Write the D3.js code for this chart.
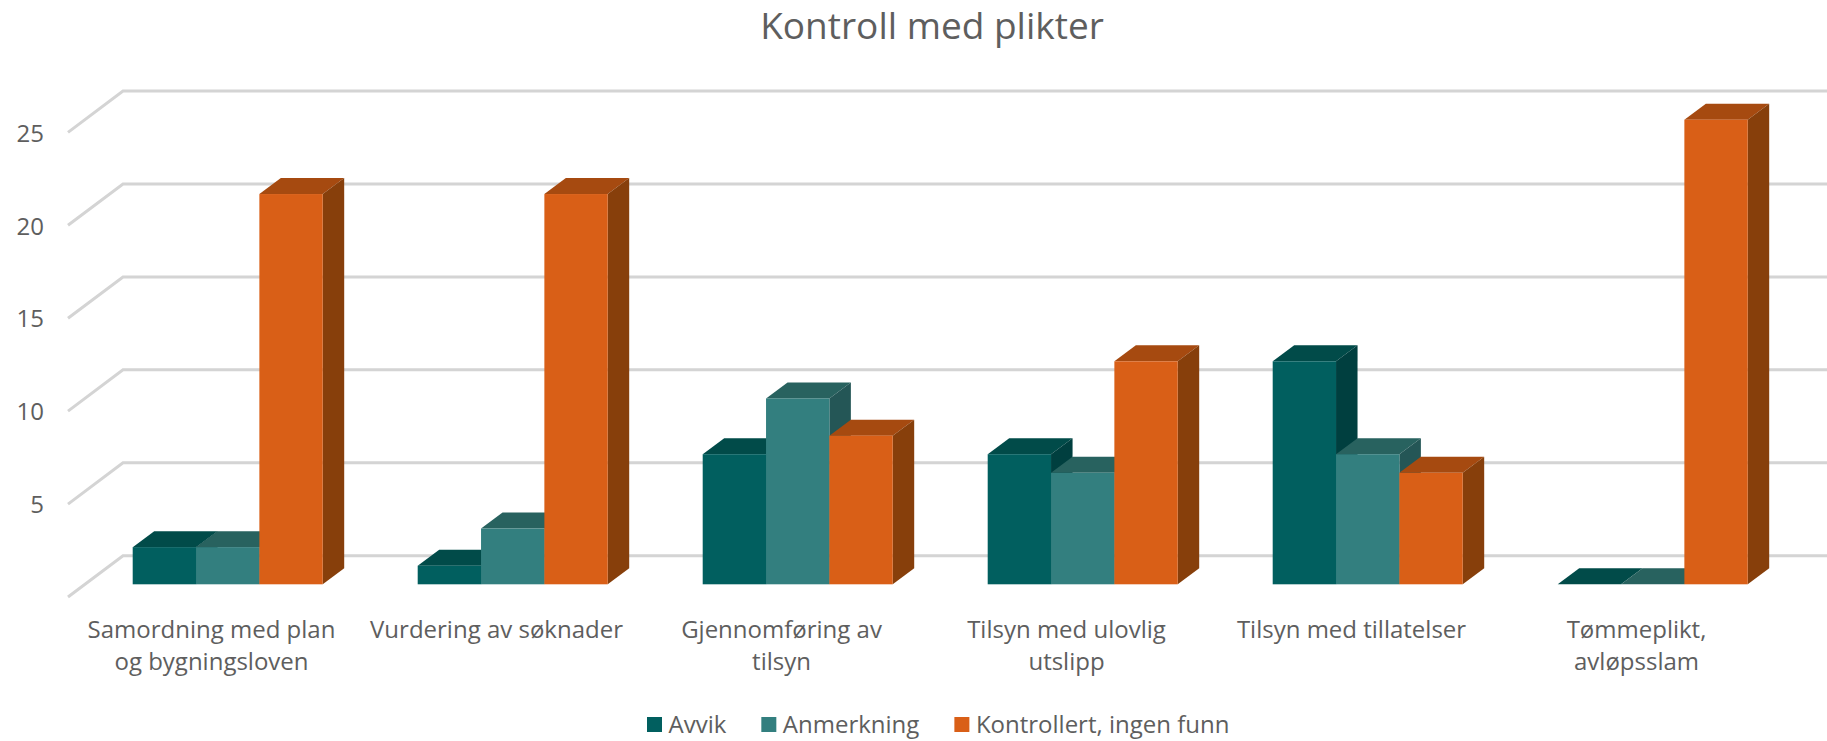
<!doctype html>
<html>
<head>
<meta charset="utf-8"/>
<title>Kontroll med plikter</title>
<script src="https://cdnjs.cloudflare.com/ajax/libs/d3/7.8.5/d3.min.js"></script>
<style>
	html, body { margin: 0; background: #fff; }
	svg { display: block; }
	text { font-family: "Open Sans", sans-serif; fill: #5e5e5e; }
	.domain { display: none; }
</style>
</head>
<body>
<svg id="chart" width="1827" height="741"></svg>
<script>
	var categories = ["Samordning med plan\nog bygningsloven", "Vurdering av søknader", "Gjennomføring av\ntilsyn", "Tilsyn med ulovlig\nutslipp", "Tilsyn med tillatelser", "Tømmeplikt,\navløpsslam"];
	var seriesNames = ["Avvik", "Anmerkning", "Kontrollert, ingen funn"];
	var avvik = [2, 1, 7, 7, 12, 0];
	var anmerkning = [2, 3, 10, 6, 7, 0];
	var kontrollert = [21, 21, 8, 12, 6, 25];
	var yTicks = [5, 10, 15, 20, 25];
	var gridValues = [0, 5, 10, 15, 20, 25];

	var frontColors = ["#015f5f", "#337f7f", "#d95f17"];
	var topColors = ["#014b49", "#28625f", "#a64a10"];
	var sideColors = ["#003f3f", "#245656", "#873f0b"];

	var svg = d3.select("#chart");
	var W = 1827;
	var depthX = 21.5, depthY = 16;

	var x = d3.scaleBand().domain(d3.range(categories.length)).range([68, 1778]);
	var inner = d3.scaleBand().domain(d3.range(seriesNames.length)).range([0, 190]);
	var y = d3.scaleLinear().domain([0, 25]).range([584.3, 119.7]);
	var barLeft = i => x(i) + 64.7;

	svg.append("text")
		.attr("x", 932).attr("y", 39)
		.attr("text-anchor", "middle")
		.style("font-size", "37px")
		.text("Kontroll med plikter");

	// walls: slanted line on the left, then straight back to the right edge
	var grid = svg.append("g").attr("fill", "none").attr("stroke", "#d4d4d4").attr("stroke-width", 3);
	grid.selectAll("path").data(gridValues).enter().append("path")
		.attr("d", v => "M68," + (y(v) + 12.7) + "L123," + (y(v) - 28.6) + "H" + W);

	var yAxis = d3.axisLeft(y).tickValues(yTicks).tickSize(0).tickPadding(0).tickFormat(d3.format("d"));
	svg.append("g")
		.attr("transform", "translate(44,13.7)")
		.call(yAxis)
		.call(g => g.selectAll("text").style("font-size", "24px").attr("fill", null));

	var xAxis = d3.axisBottom(x).tickSize(0).tickFormat("");
	var xg = svg.append("g").attr("transform", "translate(1,618)").call(xAxis);
	xg.selectAll(".tick text").each(function (i) {
		var t = d3.select(this).style("font-size", "24px").attr("fill", null);
		categories[i].split("\n").forEach((line, n) => {
			t.append("tspan").attr("x", 0).attr("y", 20 + n * 32).attr("dy", 0).text(line);
		});
	});

	var series = [avvik, anmerkning, kontrollert];
	categories.forEach((c, i) => {
		var g = svg.append("g");
		series.forEach((vals, s) => {
			var x0 = barLeft(i) + inner(s), x1 = x0 + inner.bandwidth();
			var y0 = y(0), y1 = y(vals[i]);
			var top = [[x0, y1], [x0 + depthX, y1 - depthY], [x1 + depthX, y1 - depthY], [x1, y1]];
			var side = [[x1, y1], [x1 + depthX, y1 - depthY], [x1 + depthX, y0 - depthY], [x1, y0]];
			g.append("path").attr("d", d3.line()(top) + "Z").attr("fill", topColors[s]);
			if (vals[i] > 0) {
				g.append("path").attr("d", d3.line()(side) + "Z").attr("fill", sideColors[s]);
				g.append("rect").attr("x", x0).attr("y", y1).attr("width", x1 - x0).attr("height", y0 - y1).attr("fill", frontColors[s]);
			}
		});
	});

	// legend laid out from the measured label widths
	var legend = svg.append("g").attr("transform", "translate(647,0)");
	var lx = 0;
	seriesNames.forEach((name, s) => {
		legend.append("rect").attr("x", lx).attr("y", 717).attr("width", 15).attr("height", 15).attr("fill", frontColors[s]);
		var t = legend.append("text").attr("x", lx + 21.5).attr("y", 733).style("font-size", "24px").text(name);
		lx += 21.5 + t.node().getComputedTextLength() + 35;
	});
</script>
</body>
</html>
